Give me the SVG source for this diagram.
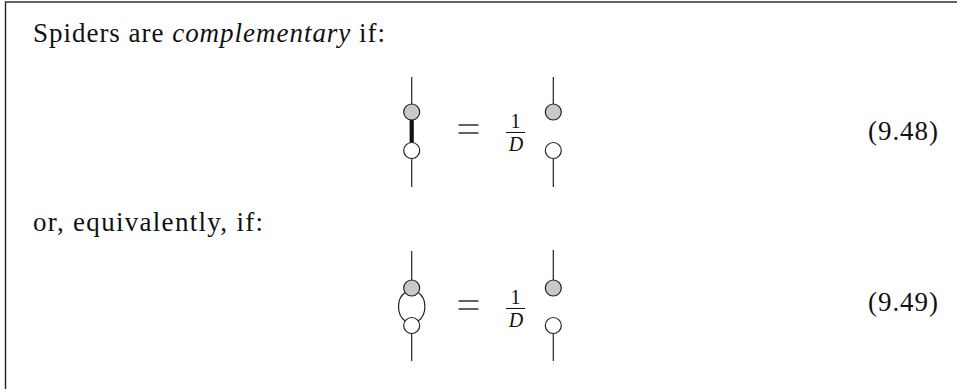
<svg xmlns="http://www.w3.org/2000/svg" width="957" height="389" viewBox="0 0 957 389">
<style>
  .txt { font-family: "Liberation Serif", "DejaVu Serif", serif; font-size: 27px; fill: #111; }
  .small { font-family: "Liberation Serif", "DejaVu Serif", serif; font-size: 20px; fill: #111; }
  .wire { stroke: #222; stroke-width: 1.2; fill: none; }
  .thick { stroke: #111; stroke-width: 4.2; fill: none; }
  .grey { fill: #c9c9c9; stroke: #222; stroke-width: 1.2; }
  .white { fill: #ffffff; stroke: #222; stroke-width: 1.2; }
  .frame { fill: none; stroke: #222; stroke-width: 1.4; }
  .eqbar { stroke: #111; stroke-width: 1.3; }
  .fracbar { stroke: #111; stroke-width: 1; }
</style>
<rect x="0" y="0" width="957" height="389" fill="#ffffff"/>
<rect class="frame" x="5.5" y="2" width="1000" height="500"/>

<g id="text1">
  <text class="txt" x="33" y="42" textLength="352" lengthAdjust="spacing">Spiders are <tspan font-style="italic">complementary</tspan> if:</text>
</g>
<g id="text2">
  <text class="txt" x="33" y="231" textLength="230" lengthAdjust="spacing">or, equivalently, if:</text>
</g>

<g id="connectors">
  <line class="wire" x1="411.7" y1="77" x2="411.7" y2="112"/>
  <line class="thick" x1="411.7" y1="112" x2="411.7" y2="150.5"/>
  <line class="wire" x1="411.7" y1="150.5" x2="411.7" y2="187"/>
  <line class="wire" x1="553.3" y1="77" x2="553.3" y2="112"/>
  <line class="wire" x1="553.3" y1="150.5" x2="553.3" y2="187"/>
  <line class="wire" x1="411.7" y1="251" x2="411.7" y2="288"/>
  <path class="wire" d="M405.2,292.6 C396.3,298.5 396.3,315 405.2,320.9"/>
  <path class="wire" d="M418.2,292.6 C427.1,298.5 427.1,315 418.2,320.9"/>
  <line class="wire" x1="411.7" y1="325.5" x2="411.7" y2="361"/>
  <line class="wire" x1="553.3" y1="250" x2="553.3" y2="288"/>
  <line class="wire" x1="553.3" y1="325.5" x2="553.3" y2="361"/>
</g>

<g id="eq948">
  <g id="n1-grey"><circle class="grey" cx="411.7" cy="112" r="8"/></g>
  <g id="n1-white"><circle class="white" cx="411.7" cy="150.5" r="8"/></g>
  <g id="n2-grey"><circle class="grey" cx="553.3" cy="112" r="8"/></g>
  <g id="n2-white"><circle class="white" cx="553.3" cy="150.5" r="8"/></g>
  <g id="eq1-sign">
    <line class="eqbar" x1="458.5" y1="125" x2="478.5" y2="125"/>
    <line class="eqbar" x1="458.5" y1="133" x2="478.5" y2="133"/>
  </g>
  <g id="frac1">
    <text class="small" x="515.5" y="127.5" text-anchor="middle">1</text>
    <line class="fracbar" x1="506" y1="132.5" x2="525" y2="132.5"/>
    <text class="small" x="516" y="150.5" text-anchor="middle" font-style="italic">D</text>
  </g>
  <g id="label948"><text class="txt" x="938" y="140" text-anchor="end" textLength="70" lengthAdjust="spacing">(9.48)</text></g>
</g>

<g id="eq949">
  <g id="n3-grey"><circle class="grey" cx="411.7" cy="288" r="8"/></g>
  <g id="n3-white"><circle class="white" cx="411.7" cy="325.5" r="8"/></g>
  <g id="n4-grey"><circle class="grey" cx="553.3" cy="288" r="8"/></g>
  <g id="n4-white"><circle class="white" cx="553.3" cy="325.5" r="8"/></g>
  <g id="eq2-sign">
    <line class="eqbar" x1="458.5" y1="301" x2="478.5" y2="301"/>
    <line class="eqbar" x1="458.5" y1="309" x2="478.5" y2="309"/>
  </g>
  <g id="frac2">
    <text class="small" x="515.5" y="303.5" text-anchor="middle">1</text>
    <line class="fracbar" x1="506" y1="308.5" x2="525" y2="308.5"/>
    <text class="small" x="516" y="326.5" text-anchor="middle" font-style="italic">D</text>
  </g>
  <g id="label949"><text class="txt" x="938" y="311" text-anchor="end" textLength="70" lengthAdjust="spacing">(9.49)</text></g>
</g>
</svg>
